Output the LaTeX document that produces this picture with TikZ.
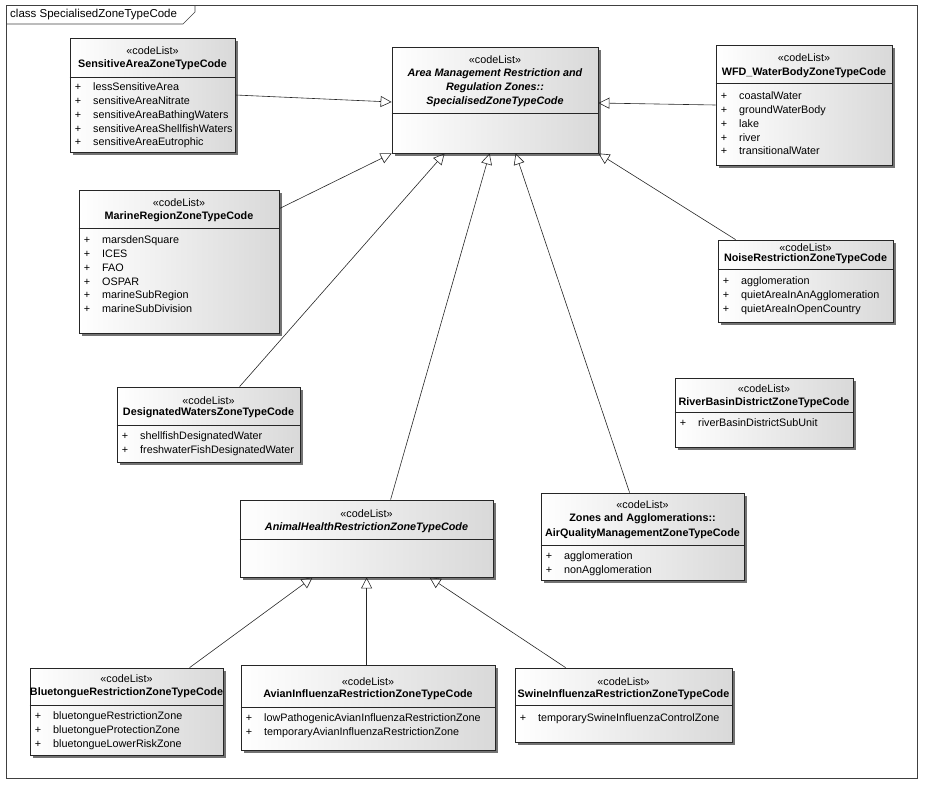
\documentclass[tikz,border=0pt]{standalone}
\usepackage{fontspec}
\setmainfont{Liberation Sans}
\usetikzlibrary{arrows.meta,shadows}

% class box: name, left, top, right, bottom, divider
\newcommand{\clbox}[6]{%
    \node[classbox, minimum width={(#4-#2)*1pt}, minimum height={(#5-#3)*1pt}]
        (#1) at ({(#2+#4)/2},{(#3+#5)/2}) {};
    \draw[divider] (#1.west |- 0,#6) -- (#1.east |- 0,#6);
}
% attribute list: prefix, left, first y, values
\newcommand{\attrs}[4]{%
    \foreach \t [count=\i] in {#4} {
        \node[plus] (#1-p\i) at ({#2+8},{#3+13.8*(\i-1)}) {+};
        \node[attr] (#1-a\i) at ({#2+23},{#3+13.8*(\i-1)}) {\t};
    }
}

\begin{document}
\begin{tikzpicture}[x=1pt,y=-1pt,font=\fontsize{10.8}{12}\selectfont]
    \tikzstyle{classbox}=[draw=black!85, line width=0.8pt, inner sep=0pt,
        left color=white, middle color=white, right color=black!15,
        drop shadow={shadow xshift=3pt,shadow yshift=-3pt,fill=black!55,opacity=1}]
    \tikzstyle{divider}=[draw=black!85, line width=0.8pt]
    \tikzstyle{stereo}=[inner sep=0pt, text height=7.5pt, text depth=2pt]
    \tikzstyle{cname}=[stereo, font=\fontsize{10.8}{12}\selectfont\bfseries]
    \tikzstyle{aname}=[cname, font=\fontsize{10.8}{12}\selectfont\bfseries\itshape]
    \tikzstyle{plus}=[stereo]
    \tikzstyle{attr}=[stereo, anchor=west]
    \tikzstyle{generalise}=[-{Triangle[open,length=11pt,width=11pt]}, draw=black!85, line width=0.6pt]

    \useasboundingbox (0,0) rectangle (925,785);

    % diagram frame
    \draw[black!75, line width=0.6pt] (6,5) rectangle (917,778);
    \draw[black!75, line width=0.6pt] (6,24) -- (183,24) -- (195,12) -- (195,5);
    \node[attr, font=\fontsize{11.5}{13}\selectfont] (frame-lbl) at (10,15) {class SpecialisedZoneTypeCode};

    % the parent code list
    \clbox{spec}{392}{47}{598}{153}{113}
    \node[stereo] (spec-st) at (spec.center |- 0,61) {«codeList»};
    \node[aname] (spec-n1) at (spec.center |- 0,74) {Area Management Restriction and};
    \node[aname] (spec-n2) at (spec.center |- 0,88) {Regulation Zones::};
    \node[aname] (spec-n3) at (spec.center |- 0,102) {SpecialisedZoneTypeCode};

    \clbox{sens}{70}{38}{235}{152}{77}
    \node[stereo] (sens-st) at (sens.center |- 0,52) {«codeList»};
    \node[cname] (sens-n) at (sens.center |- 0,65) {SensitiveAreaZoneTypeCode};
    \attrs{sens}{70}{88}{lessSensitiveArea,sensitiveAreaNitrate,sensitiveAreaBathingWaters,sensitiveAreaShellfishWaters,sensitiveAreaEutrophic}

    \clbox{wfd}{716}{45}{892}{165}{83}
    \node[stereo] (wfd-st) at (wfd.center |- 0,59) {«codeList»};
    \node[cname] (wfd-n) at (wfd.center |- 0,73) {WFD\_WaterBodyZoneTypeCode};
    \attrs{wfd}{716}{97}{coastalWater,groundWaterBody,lake,river,transitionalWater}

    \clbox{marine}{79}{190}{279}{333}{228}
    \node[stereo] (marine-st) at (marine.center |- 0,204) {«codeList»};
    \node[cname] (marine-n) at (marine.center |- 0,217) {MarineRegionZoneTypeCode};
    \attrs{marine}{79}{241}{marsdenSquare,ICES,FAO,OSPAR,marineSubRegion,marineSubDivision}

    \clbox{noise}{718}{240}{893}{322}{269}
    \node[stereo] (noise-st) at (noise.center |- 0,249) {«codeList»};
    \node[cname] (noise-n) at (noise.center |- 0,259) {NoiseRestrictionZoneTypeCode};
    \attrs{noise}{718}{282}{agglomeration,quietAreaInAnAgglomeration,quietAreaInOpenCountry}

    \clbox{desig}{117}{387}{300}{462}{425}
    \node[stereo] (desig-st) at (desig.center |- 0,402) {«codeList»};
    \node[cname] (desig-n) at (desig.center |- 0,413) {DesignatedWatersZoneTypeCode};
    \attrs{desig}{117}{437}{shellfishDesignatedWater,freshwaterFishDesignatedWater}

    \clbox{river}{675}{378}{853}{447}{412}
    \node[stereo] (river-st) at (river.center |- 0,390) {«codeList»};
    \node[cname] (river-n) at (river.center |- 0,403) {RiverBasinDistrictZoneTypeCode};
    \attrs{river}{675}{424}{riverBasinDistrictSubUnit}

    \clbox{animal}{240}{500}{493}{577}{539}
    \node[stereo] (animal-st) at (animal.center |- 0,515) {«codeList»};
    \node[aname] (animal-n) at (animal.center |- 0,528) {AnimalHealthRestrictionZoneTypeCode};

    \clbox{air}{541}{493}{744}{580}{545}
    \node[stereo] (air-st) at (air.center |- 0,506) {«codeList»};
    \node[cname] (air-n1) at (air.center |- 0,519) {Zones and Agglomerations::};
    \node[cname] (air-n2) at (air.center |- 0,534) {AirQualityManagementZoneTypeCode};
    \attrs{air}{541}{557}{agglomeration,nonAgglomeration}

    \clbox{blue}{30}{668}{223}{755}{705}
    \node[stereo] (blue-st) at (blue.center |- 0,680) {«codeList»};
    \node[cname] (blue-n) at (blue.center |- 0,693) {BluetongueRestrictionZoneTypeCode};
    \attrs{blue}{30}{717}{bluetongueRestrictionZone,bluetongueProtectionZone,bluetongueLowerRiskZone}

    \clbox{avian}{241}{665}{495}{750}{707}
    \node[stereo] (avian-st) at (avian.center |- 0,683) {«codeList»};
    \node[cname] (avian-n) at (avian.center |- 0,695) {AvianInfluenzaRestrictionZoneTypeCode};
    \attrs{avian}{241}{719}{lowPathogenicAvianInfluenzaRestrictionZone,temporaryAvianInfluenzaRestrictionZone}

    \clbox{swine}{515}{668}{732}{742}{705}
    \node[stereo] (swine-st) at (swine.center |- 0,683) {«codeList»};
    \node[cname] (swine-n) at (swine.center |- 0,695) {SwineInfluenzaRestrictionZoneTypeCode};
    \attrs{swine}{515}{719}{temporarySwineInfluenzaControlZone}

    % generalisations to the parent code list
    \draw[generalise] (sens.east) -- ([yshift=-2pt]spec.west);
    \draw[generalise] (wfd.west) -- ([yshift=-3pt]spec.east);
    \draw[generalise] ([yshift=-19pt]marine.north east) -- (spec.south west);
    \draw[generalise] ([xshift=123pt]desig.north west) -- ([xshift=53pt]spec.south west);
    \draw[generalise] ([xshift=151pt]animal.north west) -- ([xshift=98pt]spec.south west);
    \draw[generalise] ([xshift=89pt]air.north west) -- ([xshift=124pt]spec.south west);
    \draw[generalise] ([xshift=18pt]noise.north west) -- (spec.south east);

    % animal health restriction zones
    \draw[generalise] ([xshift=160pt]blue.north west) -- ([xshift=73pt]animal.south west);
    \draw[generalise] ([xshift=126pt]avian.north west) -- ([xshift=127pt]animal.south west);
    \draw[generalise] ([xshift=51pt]swine.north west) -- ([xshift=190pt]animal.south west);
\end{tikzpicture}
\end{document}
